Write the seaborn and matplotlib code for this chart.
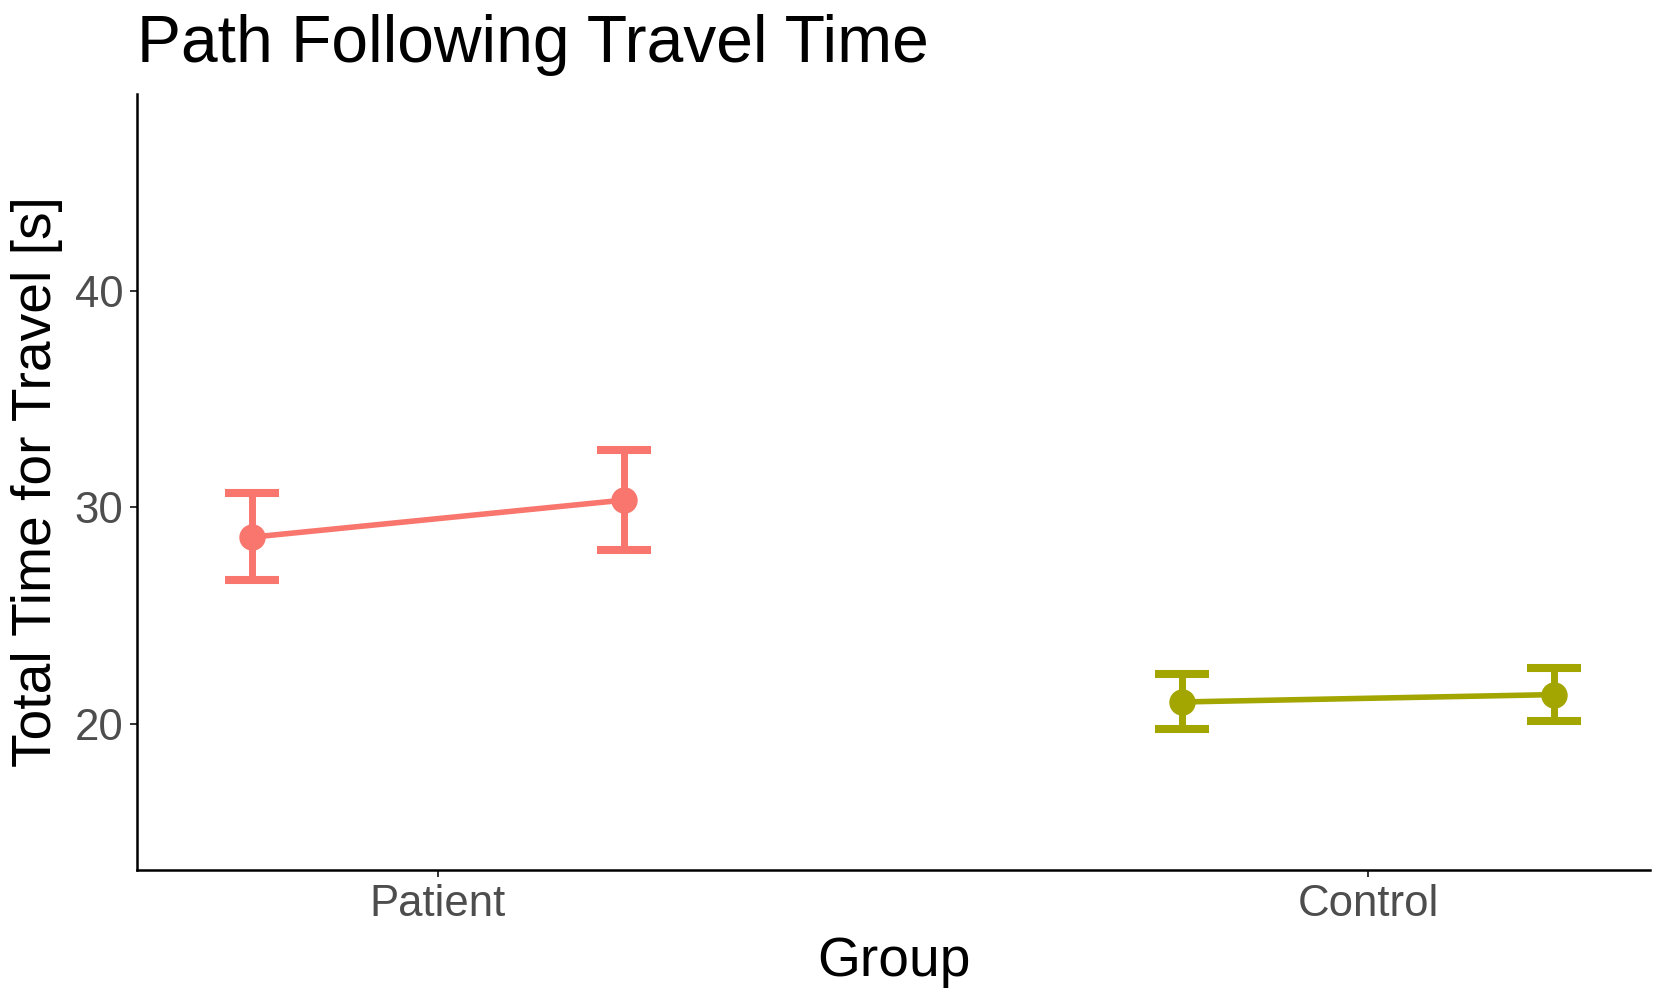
import matplotlib
matplotlib.use("Agg")
import matplotlib.pyplot as plt
import pandas as pd
import seaborn as sns

# Values
groups = ["Patient", "Control"]
sessions = ["First", "Second"]
patient_mean = [28.63, 30.34]
patient_low = [26.67, 28.04]
patient_high = [30.69, 32.65]
control_mean = [21.03, 21.37]
control_low = [19.80, 20.15]
control_high = [22.30, 22.60]
colors = {"Patient": "#F8766D", "Control": "#A3A500"}

# Build a long table, dodging the two sessions inside each group
dodge = 0.2
rows = []
for gi, (g, m, lo, hi) in enumerate(zip(groups,
                                        [patient_mean, control_mean],
                                        [patient_low, control_low],
                                        [patient_high, control_high])):
    for si, s in enumerate(sessions):
        rows.append({"Group": g, "Session": s, "Time": m[si],
                     "Low": lo[si], "High": hi[si],
                     "pos": gi + (si - 0.5) * 2 * dodge})
df = pd.DataFrame(rows)

sns.set_style("ticks")
plt.rcParams['font.family'] = ['Liberation Sans', 'DejaVu Sans']

fig, ax = plt.subplots(figsize=(16.67, 10), dpi=100)
fig.subplots_adjust(left=0.0823, right=0.990, bottom=0.130, top=0.906)

# Error bars per group
for g, sub in df.groupby("Group", sort=False):
    ax.errorbar(sub["pos"], sub["Time"],
                yerr=[sub["Time"] - sub["Low"], sub["High"] - sub["Time"]],
                fmt="none", ecolor=colors[g], elinewidth=5,
                capsize=19.5, capthick=5.8, zorder=2)

# Points joined by a line within each group
sns.lineplot(data=df, x="pos", y="Time", hue="Group", palette=colors,
             marker="o", markersize=19, markeredgewidth=0, linewidth=4,
             legend=False, errorbar=None, ax=ax, zorder=3)

ax.set_xticks(range(len(groups)), groups)
ax.set_yticks([20, 30, 40])
ax.set_xlim(-0.323, 1.303)
ax.set_ylim(13.28, 49.07)

sns.despine(ax=ax)
for side in ["left", "bottom"]:
    ax.spines[side].set_color("black")
    ax.spines[side].set_linewidth(1.8)
ax.tick_params(colors="#333333", width=1.4, length=5, labelsize=31.5,
               labelcolor="#4D4D4D", pad=5)

ax.set_xlabel("Group", fontsize=39.7, labelpad=8, color="black")
ax.set_ylabel("Total Time for Travel [s]", fontsize=39.7, labelpad=8,
              color="black")
ax.set_title("Path Following Travel Time", loc="left", fontsize=47.5,
             pad=23, color="black")

fig.savefig("out.png", dpi=100)
